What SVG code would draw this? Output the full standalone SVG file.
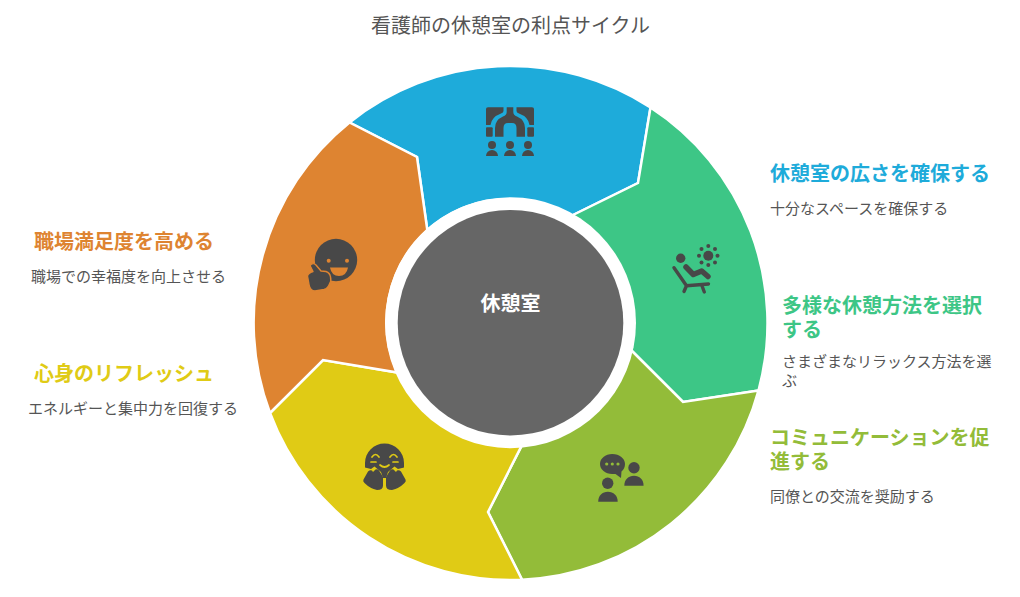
<svg xmlns="http://www.w3.org/2000/svg" width="1020" height="597" viewBox="0 0 1020 597">
<style>
text{font-family:"Noto Sans CJK JP","Noto Sans",sans-serif}
.seg{stroke:#fff;stroke-width:2.5;stroke-linejoin:miter}
.ic{fill:#484848}
.title{font-size:20px;fill:#555}
.h{font-size:20px;font-weight:700}
.d{font-size:15px;fill:#555}
</style>
<rect width="1020" height="597" fill="#fff"/>
<text class="title" x="510.5" y="33" text-anchor="middle">看護師の休憩室の利点サイクル</text>
<g id="connectors"></g>
<g id="node-space">
<path class="seg" fill="#1eabda" d="M349.500 122.500A257 257 0 0 1 650.500 107.500L638 183L571 216A123.500 123.500 0 0 0 427.300 230L417 157Z"/>
<g class="ic">
<path d="M486 109Q486 107.300 488 107.300H503.500V111Q503.500 112.500 501 113.500Q491.500 117 490.500 125H486Z"/>
<path d="M534 109Q534 107.300 532 107.300H516.500V111Q516.500 112.500 519 113.500Q528.500 117 529.500 125H534Z"/>
<rect x="486" y="127.300" width="6.700" height="9.400" rx="1"/><rect x="527.300" y="127.300" width="6.700" height="9.400" rx="1"/>
<path d="M506.700 107.300H513.300V112Q513.300 115 517 116.500Q525 120 525 128V136.700H516.500V128Q516.500 123 512 123H508Q503.500 123 503.500 128V136.700H495V128Q495 120 503 116.500Q506.700 115 506.700 112Z"/>
<circle cx="492" cy="145" r="4"/><circle cx="510" cy="145" r="4"/><circle cx="528" cy="145" r="4"/>
<path d="M486 156A6 6 0 0 1 498 156Z"/><path d="M504 156A6 6 0 0 1 516 156Z"/><path d="M522 156A6 6 0 0 1 534 156Z"/>
</g>
</g>
<g id="node-variety">
<path class="seg" fill="#3dc686" d="M650.500 107.500A257 257 0 0 1 758.500 390.500L683 402L630.500 349.500A123.500 123.500 0 0 0 571 216L638 183Z"/>
<g class="ic">
<circle cx="680.700" cy="258.300" r="4.700"/><circle cx="708.300" cy="255.700" r="5"/>
<circle cx="708.300" cy="246" r="2"/><circle cx="708.300" cy="265" r="2"/><circle cx="699" cy="255.700" r="2"/><circle cx="717.500" cy="255.700" r="2"/><circle cx="701.500" cy="249" r="2"/><circle cx="715" cy="249" r="2"/><circle cx="701.500" cy="262.500" r="2"/><circle cx="715" cy="262.500" r="2"/>
<path fill="none" stroke="#484848" stroke-width="5.500" stroke-linecap="round" stroke-linejoin="round" d="M686 267L693.300 274.500L701.700 271L708 276.500"/>
<path fill="none" stroke="#484848" stroke-width="3.400" stroke-linecap="round" stroke-linejoin="round" d="M674 267.700L686.500 285.800L708.500 284M686.500 285.800L684 291.500M701.700 285L704.300 292"/>
</g>
</g>
<g id="node-comm">
<path class="seg" fill="#93bc39" d="M758.500 390.500A257 257 0 0 1 522 579.700L488 512L522.200 444.600A123.500 123.500 0 0 0 630.500 349.500L683 402Z"/>
<g class="ic">
<path d="M612.300 454C619.500 454 625 458.500 625 464C625 467 623.800 469.500 621.500 471.500L621 478L615.500 473.900Q614 474 612.300 474C605.300 474 600 469.500 600 464C600 458.500 605.300 454 612.300 454Z"/>
<circle cx="634" cy="467.700" r="5.700"/><path d="M624.300 485.700C624.300 479.500 628.500 475.700 634 475.700C639.500 475.700 643.600 479.500 643.600 485.700Z"/>
<circle cx="607.700" cy="483.300" r="5.700"/><path d="M598.200 501.700C598.200 495.500 602.300 491.700 607.900 491.700C613.500 491.700 617.700 495.500 617.700 501.700Z"/>
<g fill="#93bc39"><circle cx="606.700" cy="464" r="1.600"/><circle cx="612.300" cy="464" r="1.600"/><circle cx="618" cy="464" r="1.600"/></g>
</g>
</g>
<g id="node-refresh">
<path class="seg" fill="#e0cb15" d="M522 579.700A257 257 0 0 1 270 413L323 360L397.500 372.600A123.500 123.500 0 0 0 522.200 444.600L488 512Z"/>
<g class="ic">
<path d="M365 463A19.500 19.500 0 0 1 404 463V467.500L398 469L394.500 466.500L388 472L386 478H383L381 472L374.500 466.500L371 469L365 467.500Z"/>
<path d="M363.500 479.500L368 471.500Q370 469.500 372 470.500L373 472L375.500 469.500Q377.500 468.500 379 470.500L383 477V485.500Q383 490 377 490Q370 488.500 364.500 483Q362.500 481 363.500 479.500Z"/>
<path d="M405.500 479.500L401 471.500Q399 469.500 397 470.500L396 472L393.500 469.500Q391.500 468.500 390 470.500L386 477V485.500Q386 490 392 490Q399 488.500 404.500 483Q406.500 481 405.500 479.500Z"/>
</g>
<g fill="none" stroke="#e0cb15" stroke-width="1.700" stroke-linecap="round">
<path d="M372 457Q375.500 452 379 457"/><path d="M390 457Q393.500 452 397 457"/><path d="M380 465Q384.500 469 389 465"/>
<path d="M371 462H376"/><path d="M393 462H398"/>
</g>
</g>
<g id="node-satisfaction">
<path class="seg" fill="#de8431" d="M270 413A257 257 0 0 1 349.500 122.500L417 157L427.300 230A123.500 123.500 0 0 0 397.500 372.600L323 360Z"/>
<g class="ic">
<circle cx="336" cy="260" r="21.200"/>
<path stroke="#de8431" stroke-width="1.400" stroke-linejoin="round" d="M310 265.500Q313 262 316 265L321 271L326 271.500Q330 273 330.500 277Q331.500 281 329.500 284Q328 288.500 324 289.500L315 291Q310 290.500 309 284.500L307.500 276Q308 273 313 271.500Z"/>
</g>
<circle cx="328.700" cy="260.700" r="2" fill="#de8431"/><circle cx="347" cy="260.700" r="2" fill="#de8431"/>
<path fill="#de8431" d="M330 267.500H348Q346.500 276 339 276Q331.500 276 330 267.500Z"/>
</g>
<g id="node-center">
<circle cx="510.500" cy="322.700" r="125.500" fill="#fff"/>
<circle cx="510.500" cy="322.700" r="112.800" fill="#666"/>
<text x="510.500" y="311" text-anchor="middle" font-size="20" font-weight="700" fill="#fff">休憩室</text>
</g>
<g id="label-space"><text class="h" x="770" y="181" fill="#1eabda">休憩室の広さを確保する</text><text class="d" x="770" y="214">十分なスペースを確保する</text></g>
<g id="label-variety"><text class="h" x="782" y="313" fill="#3dc686">多様な休憩方法を選択</text><text class="h" x="782" y="337" fill="#3dc686">する</text><text class="d" x="782" y="367">さまざまなリラックス方法を選</text><text class="d" x="782" y="386">ぶ</text></g>
<g id="label-comm"><text class="h" x="770" y="445" fill="#93bc39">コミュニケーションを促</text><text class="h" x="770" y="469" fill="#93bc39">進する</text><text class="d" x="770" y="502">同僚との交流を奨励する</text></g>
<g id="label-satisfaction"><text class="h" x="34" y="249" fill="#de8431">職場満足度を高める</text><text class="d" x="31" y="282">職場での幸福度を向上させる</text></g>
<g id="label-refresh"><text class="h" x="34" y="381" fill="#e0cb15">心身のリフレッシュ</text><text class="d" x="28" y="414">エネルギーと集中力を回復する</text></g>
</svg>
